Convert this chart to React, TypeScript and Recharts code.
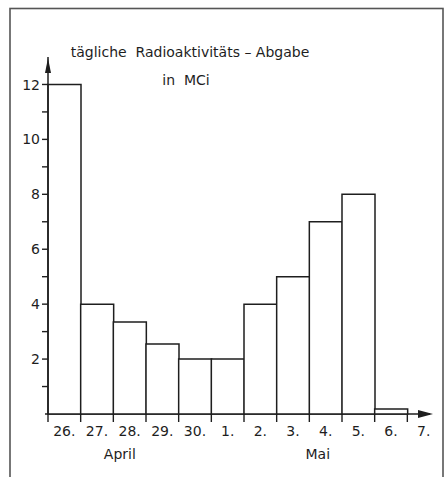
import React from 'react';
import { BarChart, Bar, XAxis, YAxis, Customized } from 'recharts';

const days = ['26.', '27.', '28.', '29.', '30.', '1.', '2.', '3.', '4.', '5.', '6.', '7.'];
const values: (number | null)[] = [12, 4, 3.35, 2.55, 2, 2, 4, 5, 7, 8, 0.18, null];
const yTicks = [1, 2, 3, 4, 5, 6, 7, 8, 9, 10, 11, 12];
const yLabels = [2, 4, 6, 8, 10, 12];
const titleLines = ['tägliche  Radioaktivitäts – Abgabe', 'in  MCi'];
const monthLabels = ['April', 'Mai'];

const data = days.map((d, i) => ({ day: d, v: values[i] }));

const W = 444;
const H = 477;
const XH = 63;
const M = { top: 57, right: 4, bottom: 0, left: 0 };
const YW = 48;
const plotLeft = M.left + YW;
const plotRight = W - M.right;
const plotBottom = H - M.bottom - XH;
const bw = (plotRight - plotLeft) / days.length;
const INK = '#1e1e1e';
const FONT = '"DejaVu Sans", Arial, sans-serif';
const FS = 14;

const XTick = (props: any) => {
  const { x, y, payload } = props;
  const axisY = y - 12;
  return (
    <g>
      <line x1={x - bw / 2} x2={x - bw / 2} y1={axisY} y2={axisY + 8} stroke={INK} strokeWidth={1.4} />
      <text x={x} y={y} dy="0.71em" textAnchor="middle" fontSize={FS} fill={INK} fontFamily={FONT}>
        {payload.value}
      </text>
    </g>
  );
};

const YTick = (props: any) => {
  const { x, y, payload } = props;
  if (!yLabels.includes(payload.value)) return <g />;
  return (
    <text x={x} y={y} dy="0.36em" textAnchor="end" fontSize={FS} fill={INK} fontFamily={FONT}>
      {payload.value}
    </text>
  );
};

const Decor = () => (
  <g>
    <rect x={10} y={8.5} width={433} height={480} fill="none" stroke="#555" strokeWidth={1.6} />
    <text x={190} y={57} textAnchor="middle" fontSize={FS} fill={INK} fontFamily={FONT} style={{ whiteSpace: 'pre' }}>
      {titleLines[0]}
    </text>
    <text x={186} y={85} textAnchor="middle" fontSize={FS} fill={INK} fontFamily={FONT} style={{ whiteSpace: 'pre' }}>
      {titleLines[1]}
    </text>
    <line x1={plotLeft - 3} x2={plotRight - 10} y1={plotBottom} y2={plotBottom} stroke={INK} strokeWidth={1.5} />
    <path
      d={`M${plotRight - 7},${plotBottom} L${plotRight - 22},${plotBottom - 4} L${plotRight - 22},${plotBottom + 4} Z`}
      fill={INK}
    />
    <path
      d={`M${plotLeft},${M.top + 1} L${plotLeft - 3},${M.top + 16} L${plotLeft + 3},${M.top + 16} Z`}
      fill={INK}
    />
    <text x={plotLeft + bw * 2.2} y={459} textAnchor="middle" fontSize={FS} fill={INK} fontFamily={FONT}>
      {monthLabels[0]}
    </text>
    <text x={plotLeft + bw * 8.26} y={459} textAnchor="middle" fontSize={FS} fill={INK} fontFamily={FONT}>
      {monthLabels[1]}
    </text>
  </g>
);

export default function App() {
  return (
    <div style={{ position: 'absolute', left: 0, top: 0, width: W, height: H, background: '#fff' }}>
      <BarChart width={W} height={H} data={data} margin={M} barCategoryGap={0} barGap={0}>
        <Customized component={Decor} />
        <XAxis
          dataKey="day"
          axisLine={false}
          tickLine={false}
          tickSize={8}
          tickMargin={4}
          interval={0}
          tick={XTick}
          height={XH}
        />
        <YAxis
          type="number"
          domain={[0, 13]}
          ticks={yTicks}
          interval={0}
          width={YW}
          tickSize={6}
          tickMargin={2}
          tick={YTick}
          axisLine={{ stroke: INK, strokeWidth: 1.5 }}
          tickLine={{ stroke: INK, strokeWidth: 1.4 }}
        />
        <Bar dataKey="v" fill="#fff" stroke={INK} strokeWidth={1.5} isAnimationActive={false} />
      </BarChart>
    </div>
  );
}
